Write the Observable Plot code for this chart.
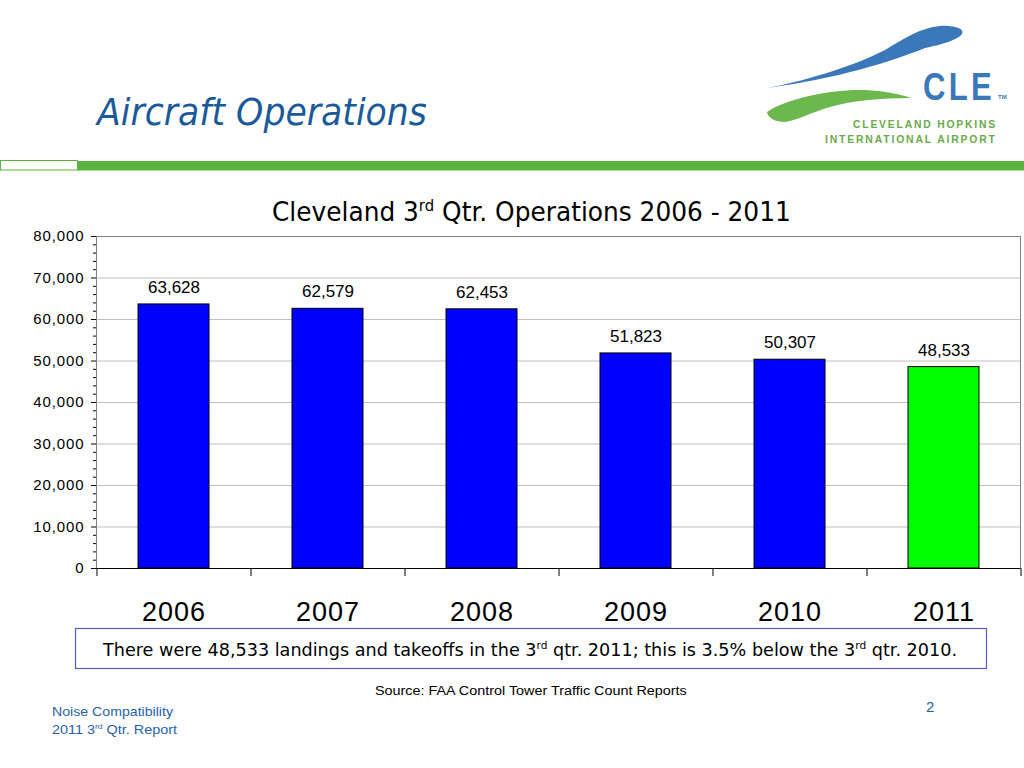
<!DOCTYPE html>
<html>
<head>
<meta charset="utf-8">
<script src="https://cdn.jsdelivr.net/npm/d3@7"></script>
<script src="https://cdn.jsdelivr.net/npm/@observablehq/plot@0.6"></script>
<style>
  html, body { margin: 0; padding: 0; background: #fff; }
  #page { position: relative; width: 1024px; height: 768px; overflow: hidden; background: #fff; }
  #overlay { position: absolute; left: 0; top: 0; }
  #chart { position: absolute; left: 0; top: 220px; }
  #chart g[aria-label="value-labels"] text { letter-spacing: 0.8px; }
  #chart g[aria-label="y-axis tick label"] text { letter-spacing: 0.9px; }
  #chart g[aria-label="x-axis tick label"] text { letter-spacing: 1px; }
</style>
</head>
<body>
<div id="page">
  <svg id="overlay" width="1024" height="768"></svg>
  <div id="chart"></div>
</div>
<script>
// ---- data ----
const years = ["2006", "2007", "2008", "2009", "2010", "2011"];
const operations = [63628, 62579, 62453, 51823, 50307, 48533];
const highlightYear = "2011";
const majorTicks = [0, 10000, 20000, 30000, 40000, 50000, 60000, 70000, 80000];
const minorTicks = d3.range(0, 80001, 2000).filter(v => v % 10000 !== 0);

const data = years.map((year, i) => ({year, ops: operations[i]}));
const fmt = d3.format(",");

// ---- chart ----
const W = 1024, H = 410, mL = 96, mR = 4, mT = 16, mB = 62;
const step = (W - mL - mR) / years.length;
const yPerPx = 80000 / (H - mT - mB);

const chart = Plot.plot({
  width: W, height: H,
  marginLeft: mL, marginRight: mR, marginTop: mT, marginBottom: mB,
  style: {fontFamily: "'Liberation Sans', Arial, sans-serif", color: "black", background: "transparent", overflow: "visible"},
  x: {domain: years, paddingInner: 0.54, paddingOuter: 0.27, label: null},
  y: {domain: [0, 80000], label: null},
  marks: [
    Plot.gridY(majorTicks.filter(v => v > 0 && v < 80000), {stroke: "#c0c0c0", strokeOpacity: 1}),
    Plot.frame({stroke: "#808080"}),
    Plot.barY(data, {x: "year", y: "ops", fill: d => d.year === highlightYear ? "#00ff00" : "#0000ff", stroke: "black", strokeWidth: 1}),
    Plot.text(data, {x: "year", y: "ops", text: d => fmt(d.ops), dy: -17, fontSize: 17, fill: "black", ariaLabel: "value-labels"}),
    Plot.ruleY([0], {stroke: "black", strokeWidth: 1.2}),
    Plot.axisY({ticks: majorTicks, tickFormat: fmt, tickSize: 5, tickPadding: 7, fontSize: 15, label: null, line: true, stroke: "black"}),
    Plot.axisY({ticks: minorTicks, tickFormat: () => "", tickSize: 3, label: null, stroke: "black"}),
    Plot.ruleX(years, {x: d => d, y1: 0, y2: -8 * yPerPx, dx: -step / 2, stroke: "black"}),
    Plot.ruleX(years.slice(-1), {x: d => d, y1: 0, y2: -8 * yPerPx, dx: step / 2, stroke: "black"}),
    Plot.axisX({tickSize: 0, tickPadding: 33, fontSize: 27, label: null})
  ]
});
document.getElementById("chart").appendChild(chart);

// ---- slide decoration & text ----
const ns = "http://www.w3.org/2000/svg";
const ov = document.getElementById("overlay");
function el(tag, attrs) {
  const e = document.createElementNS(ns, tag);
  for (const k in attrs) e.setAttribute(k, attrs[k]);
  ov.appendChild(e);
  return e;
}
function addText(o, parts) {
  const t = el("text", {"font-size": o.size, "font-family": o.family || "'Liberation Sans', Arial, sans-serif",
    "font-weight": o.weight || "normal", "font-style": o.style || "normal", fill: o.fill || "#000",
    "letter-spacing": o.ls || 0});
  let raised = false;
  for (const p of parts) {
    const ts = document.createElementNS(ns, "tspan");
    const isSup = typeof p !== "string";
    const s = isSup ? p.sup : p;
    if (isSup) {
      ts.setAttribute("font-size", o.size * 0.6);
      ts.setAttribute("dy", -o.size * 0.38);
      raised = true;
    } else if (raised) {
      ts.setAttribute("dy", o.size * 0.38);
      raised = false;
    }
    ts.textContent = s;
    t.appendChild(ts);
  }
  const w0 = t.getComputedTextLength();
  const sx = o.width ? o.width / w0 : 1;
  t.setAttribute("transform", `translate(${o.x},${o.y}) scale(${sx},1)`);
  return t;
}

// header rule
el("rect", {x: 0.5, y: 160.5, width: 77, height: 9.5, fill: "#fff", stroke: "#59b540", "stroke-width": 1});
el("rect", {x: 77, y: 161, width: 947, height: 9.5, fill: "#59b540"});

// logo swooshes
el("path", {d: "M767,88 C800,82 850,68 885,50 C905,38 920,28 940,26 C955,25 965,29 962,34 C958,40 940,45 925,48 C890,62 840,78 767,88 Z", fill: "#3b78b9"});
el("path", {d: "M767,112 C785,99 830,89 865,90 C885,91 900,94 911,98 C880,98 850,101 830,107 C810,113 795,121 785,122 C775,122 768,118 767,112 Z", fill: "#6cb84c"});
addText({x: 923, y: 100, size: 38, weight: "bold", fill: "#3b78b9", width: 72, ls: 4}, ["CLE"]);
addText({x: 998, y: 99, size: 6, weight: "bold", fill: "#3b78b9"}, ["TM"]);
addText({x: 853, y: 128, size: 11.5, weight: "bold", fill: "#6aaa4a", width: 144, ls: 2}, ["CLEVELAND HOPKINS"]);
addText({x: 825, y: 143, size: 11.5, weight: "bold", fill: "#6aaa4a", width: 172, ls: 2}, ["INTERNATIONAL AIRPORT"]);

// slide title
addText({x: 97, y: 125, size: 37, family: "'DejaVu Sans', Verdana, sans-serif", style: "italic", fill: "#1a5a9a", width: 330}, ["Aircraft Operations"]);

// chart title
addText({x: 272, y: 221, size: 27, family: "'DejaVu Sans', Tahoma, sans-serif", fill: "#000", width: 519},
  ["Cleveland 3", {sup: "rd"}, " Qtr. Operations 2006 - 2011"]);

// note box
el("rect", {x: 75.5, y: 628.5, width: 911, height: 40, fill: "#fff", stroke: "#5a5ad6", "stroke-width": 1.2});
addText({x: 103, y: 656, size: 18.5, family: "'DejaVu Sans', Tahoma, sans-serif", fill: "#000", width: 855},
  ["There were 48,533 landings and takeoffs in the 3", {sup: "rd"}, " qtr. 2011; this is 3.5% below the 3", {sup: "rd"}, " qtr. 2010."]);

// source
addText({x: 375, y: 695, size: 13.5, fill: "#000", width: 312}, ["Source:  FAA Control Tower Traffic Count Reports"]);

// footer
addText({x: 52, y: 716, size: 13, fill: "#2563ad", width: 121}, ["Noise Compatibility"]);
addText({x: 52, y: 734, size: 13, fill: "#2563ad", width: 125}, ["2011 3", {sup: "rd"}, " Qtr. Report"]);
addText({x: 926, y: 712, size: 15, fill: "#2563ad"}, ["2"]);
</script>
</body>
</html>
